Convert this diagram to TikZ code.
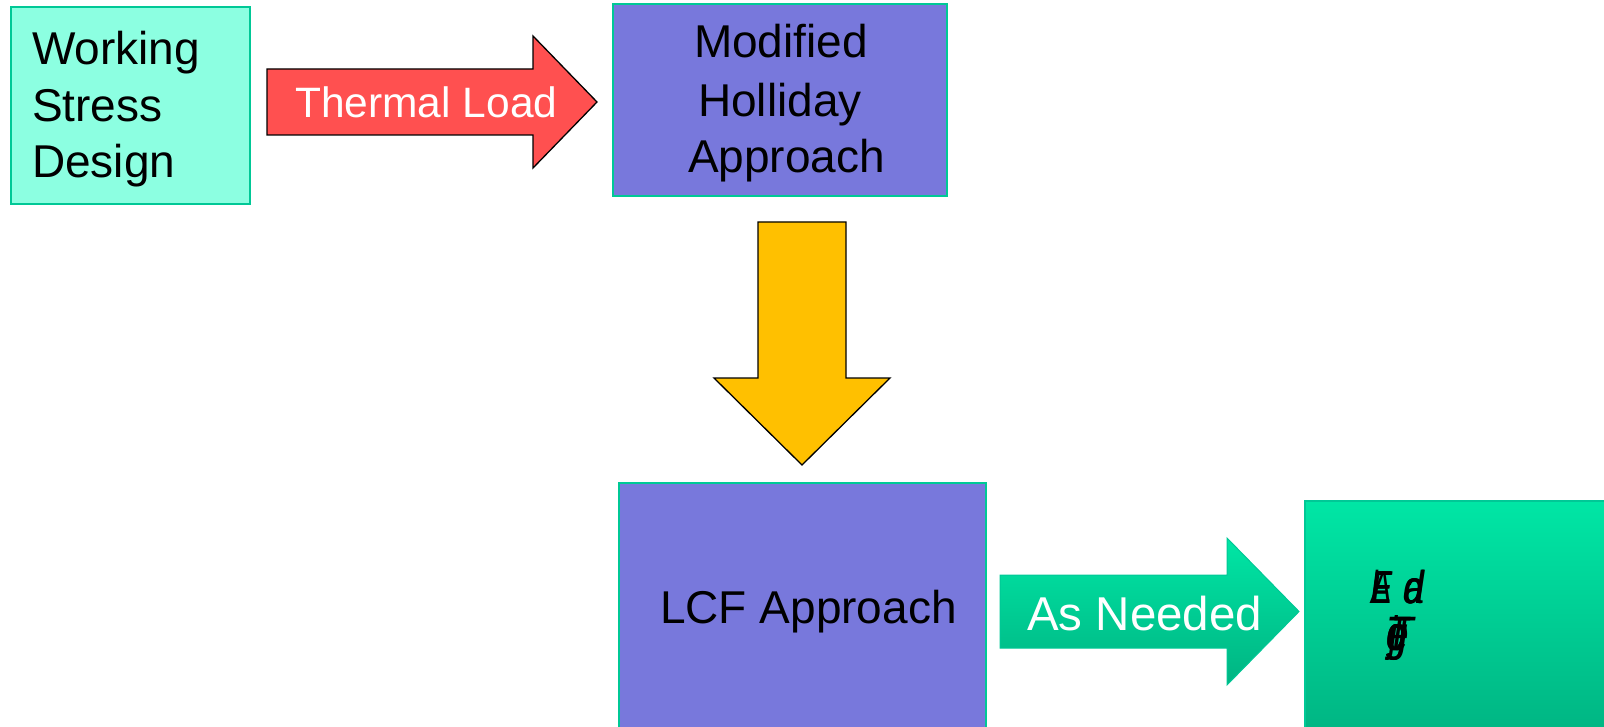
\documentclass[tikz,border=0pt]{standalone}
\usepackage{fontspec}
\setmainfont{Liberation Sans}
\usepackage{graphicx}
\definecolor{aquafill}{HTML}{8CFFE1}
\definecolor{tealedge}{HTML}{00C896}
\definecolor{purplefill}{HTML}{7878DC}
\definecolor{redfill}{HTML}{FF5050}
\definecolor{yellowfill}{HTML}{FFC000}
\definecolor{greentop}{HTML}{00E6A5}
\definecolor{greenbot}{HTML}{00B482}
\newcommand{\ovl}[1]{\makebox[0pt][l]{#1}}
\newcommand{\ovs}[2]{\makebox[0pt][l]{\hspace{#1}#2}}
\begin{document}
\begin{tikzpicture}[x=1pt,y=-1pt,
  box/.style={draw=tealedge, line width=2pt, rectangle, inner sep=0pt, anchor=north west},
  bigtxt/.style={font=\fontsize{46}{56}\selectfont, inner sep=0pt, text=black},
  garbtxt/.style={font=\fontsize{46}{56}\selectfont\itshape, inner sep=0pt, text=black},
  arrowtxt/.style={inner sep=0pt, text=white},
  blockarrow/.style={draw=black, line width=1.3pt, line join=miter}
]
\useasboundingbox (0,0) rectangle (1604,727);
% boxes
\node[box, fill=aquafill, minimum width=239pt, minimum height=197pt] (wsd) at (10,6) {};
\node[box, fill=purplefill, minimum width=334pt, minimum height=192pt] (mha) at (612,3) {};
\node[box, fill=purplefill, minimum width=367pt, minimum height=260pt] (lcf) at (618,482) {};
\shade[top color=greentop, bottom color=greenbot, draw=tealedge, line width=1.5pt] (1305,501) rectangle (1612,740);
\node[inner sep=0pt, minimum width=307pt, minimum height=239pt, anchor=north west] (res) at (1305,501) {};
% box texts
\node[bigtxt, anchor=base west] (wsd1) at (32,65) {Working};
\node[bigtxt, anchor=base west] (wsd2) at (32,122) {Stress};
\node[bigtxt, anchor=base west] (wsd3) at (32,178) {Design};
\node[bigtxt, anchor=base] (mha1) at (781,58) {Modified};
\node[bigtxt, anchor=base] (mha2) at (780,117) {Holliday};
\node[bigtxt, anchor=base] (mha3) at (786.5,173) {Approach};
\node[bigtxt, anchor=base west] (lcf1) at (660,623) {LCF Approach};
\node[garbtxt, anchor=base west] (res1) at (1371,603)
  {\scalebox{0.66}[1]{\ovl{E}\ovl{A}\ovs{1.5pt}{E}\ovl{l}E}\hspace{12pt}\scalebox{0.78}[1]{\ovl{a}\ovs{1.5pt}{a}\ovs{1pt}{d}d}};
\node[garbtxt, anchor=base west] (res2) at (1386,650)
  {\scalebox{0.8}[1.05]{\ovl{T}\ovl{g}\ovs{3pt}{e}\ovs{4pt}{j}\ovs{6pt}{T}\ovs{2pt}{g}g}};
% thermal load arrow
\draw[blockarrow, fill=redfill] (267,69) -- (533,69) -- (533,36) -- (597,102) -- (533,168) -- (533,135) -- (267,135) -- cycle;
\node[arrowtxt, anchor=base west, font=\fontsize{42.5}{50}\selectfont] (tl) at (295,118) {Thermal Load};
% yellow down arrow
\draw[blockarrow, fill=yellowfill] (758,222) -- (846,222) -- (846,378) -- (890,378) -- (802,465) -- (714,378) -- (758,378) -- cycle;
\coordinate (ya) at (802,222);
% as needed arrow
\shade[top color=greentop, bottom color=greenbot, draw=tealedge, line width=1pt, line join=miter]
  (1000,575) -- (1227,575) -- (1227,538) -- (1299,611.5) -- (1227,685) -- (1227,648) -- (1000,648) -- cycle;
\node[arrowtxt, anchor=base west, font=\fontsize{47.5}{56}\selectfont] (an) at (1027,630) {As Needed};
\end{tikzpicture}
\end{document}
